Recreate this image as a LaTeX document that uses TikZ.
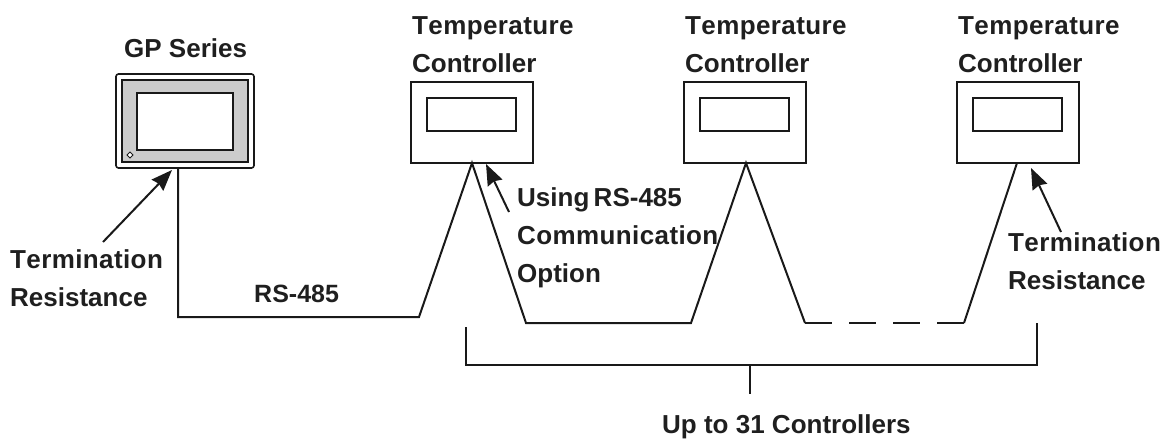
\documentclass[tikz,border=0pt]{standalone}
\usepackage{fontspec}
\setmainfont{Liberation Sans}
\newfontfamily\widefont[Kerning=Off,LetterSpace=1.5]{Liberation Sans}
\usetikzlibrary{arrows.meta}
\newcommand{\wideword}[1]{{\widefont\bfseries #1}}
\tikzset{
  lbl/.style={font=\fontsize{26}{37.7}\selectfont\bfseries,text=black!88,inner sep=0pt,align=left,anchor=base west},
  box/.style={draw=black!90,line width=2pt,fill=white},
  wire/.style={draw=black!90,line width=2pt,line join=miter},
  ptr/.style={draw=black!90,line width=2pt,-{Stealth[length=21pt,width=16pt,inset=2pt]},shorten >=0pt}
}
\begin{document}
\begin{tikzpicture}[x=1pt,y=-1pt]
\useasboundingbox (0,0) rectangle (1173,439);
% GP
\draw[box,line width=1.6pt,rounded corners=2.5pt] (116,74) rectangle (254,168);
\draw[box,fill=black!20] (122,80) rectangle (248,162);
\draw[box] (137,93) rectangle (233,150);
\draw[draw=black!90,line width=.9pt,fill=white] (130,152) -- (133,155) -- (130,158) -- (127,155) -- cycle;
\coordinate (gpb) at (178,168);
\coordinate (gptip) at (172,170);
% controllers
\foreach \n/\x in {a/411,b/684,c/957}{
  \draw[box] (\x,82) rectangle ++(122,81);
  \draw[box] (\x+16,98) rectangle ++(89,33);
}
\coordinate (p1) at (178,317); \coordinate (p2) at (419,317);
\coordinate (pa) at (472,163); \coordinate (p3) at (526,323);
\coordinate (p4) at (691,323); \coordinate (pb) at (746,163);
\coordinate (p5) at (805,323); \coordinate (p6) at (964,323);
\coordinate (pc) at (1017,163);
\draw[wire] (gpb) -- (p1) -- (p2) -- (pa) -- (p3) -- (p4) -- (pb) -- (p5);
\draw[wire] (p6) -- (pc);
\draw[wire,dash pattern=on 26.5pt off 17.5pt] (p5) -- (p6);
% bracket
\coordinate (b1) at (466,327); \coordinate (b2) at (466,365); \coordinate (b3) at (1037,365); \coordinate (b4) at (1037,323);
\coordinate (t1) at (749.5,365); \coordinate (t2) at (749.5,394);
\draw[wire] (b1) -- (b2) -- (b3) -- (b4);
\draw[wire] (t1) -- (t2);
% labels
\node[lbl] (gp) at (124,57) {GP Series};
\node[lbl] at (412,72) {\wideword{Temperature}\\Controller};
\node[lbl] at (685,72) {\wideword{Temperature}\\Controller};
\node[lbl] at (958,72) {\wideword{Temperature}\\Controller};
\node[lbl] (ta) at (10,306) {\wideword{Termination}\\Resistance};
\node[lbl,font=\fontsize{25}{37.7}\selectfont\bfseries] (rs) at (254,302) {RS-485};
\node[lbl] (opt) at (517,282) {Using\,RS-485\\\wideword{Communication}\\Option};
\node[lbl] (tb) at (1008,289.5) {\wideword{Termination}\\Resistance};
\node[lbl] (up) at (662,433.5) {Up to 31 Controllers};
% arrows
\coordinate (a1) at (103,242);
\coordinate (a2) at (509,212); \coordinate (a2t) at (486,164);
\coordinate (a3) at (1061,232); \coordinate (a3t) at (1031,168);
\draw[ptr] (a1) -- (gptip);
\draw[ptr] (a2) -- (a2t);
\draw[ptr] (a3) -- (a3t);
\end{tikzpicture}
\end{document}
